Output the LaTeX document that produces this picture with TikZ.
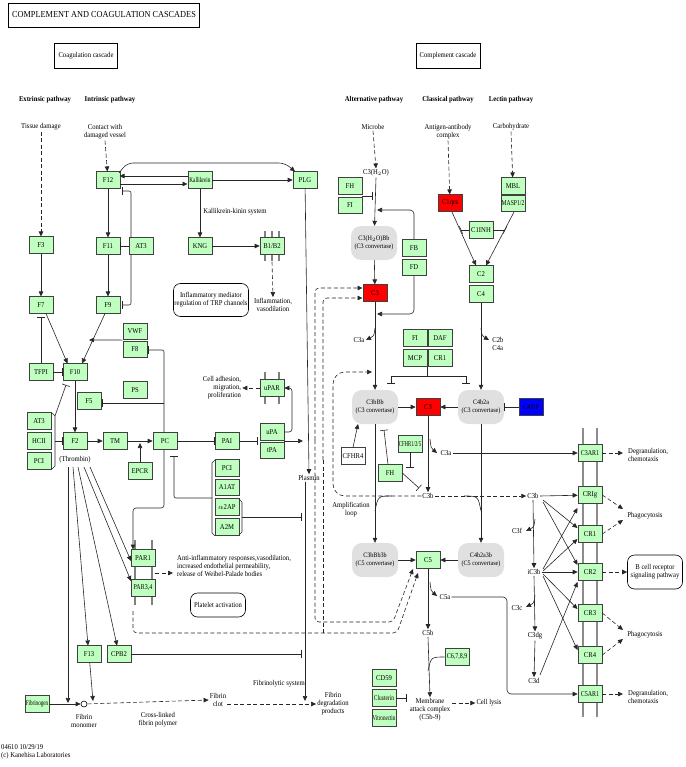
\documentclass[tikz,border=0pt]{standalone}
\usepackage{fontspec}
\setmainfont{Liberation Serif}[FakeStretch=0.9]
\usetikzlibrary{arrows.meta}
\definecolor{kg}{HTML}{BFFFBF}
\newcommand{\sq}[2]{\scalebox{#1}[1]{#2}}
\tikzset{
  gb/.style={draw=black!75, fill=kg, minimum width=24pt, minimum height=16.5pt, inner sep=0pt, line width=0.6pt},
  rb/.style={gb, fill=red},
  bb/.style={gb, fill=blue},
  wb/.style={gb, fill=white},
  cv/.style={fill=black!12, rounded corners=10pt, minimum width=46pt, minimum height=34pt, inner sep=0pt, align=center, font=\fontsize{6.8}{7.8}\selectfont},
  lb/.style={align=center, inner sep=1pt},
  hd/.style={inner sep=1pt, font=\fontsize{7.4}{8.2}\selectfont\bfseries},
  rbx/.style={draw, line width=0.6pt, rounded corners=7pt, align=center, inner sep=1pt},
  ln/.style={line width=0.6pt, black!85},
  ar/.style={ln, -{Triangle[length=5pt,width=4.5pt]}},
  ih/.style={ln, -{Bar[width=8pt]}},
  ds/.style={dash pattern=on 4pt off 2.5pt},
  mem/.style={line width=1.6pt, black!45},
  memt/.style={line width=1.1pt, black!50}
}
\begin{document}
\begin{tikzpicture}[x=1pt,y=-1pt, font=\fontsize{7.4}{8.2}\selectfont]
\useasboundingbox (0,0) rectangle (685,767);
% membranes
\draw[mem] (583,428) -- (583,717);
\draw[mem] (597,428) -- (597,717);
\draw[memt] (135,540) -- (135,605);
\draw[memt] (152,540) -- (152,605);
\foreach \x in {265,272,279} \draw[memt] (\x,231) -- (\x,261);
\foreach \x in {265,279} \draw[memt] (\x,372) -- (\x,404);

% titles
\node[draw, line width=0.8pt, minimum width=178pt, minimum height=24pt, font=\fontsize{9.2}{10}\selectfont] (title) at (104,15) {COMPLEMENT AND COAGULATION CASCADES};
\node[draw, line width=0.6pt, minimum width=63pt, minimum height=25pt] (coag) at (86,56) {Coagulation cascade};
\node[draw, line width=0.6pt, minimum width=64pt, minimum height=25pt] (comp) at (448,56) {Complement cascade};
\node[hd] (h1) at (45,100) {Extrinsic pathway};
\node[hd] (h2) at (110,100) {Intrinsic pathway};
\node[hd] (h3) at (374,100) {Alternative pathway};
\node[hd] (h4) at (448,100) {Classical pathway};
\node[hd] (h5) at (511,100) {Lectin pathway};
\node[lb] (tissue) at (41,127) {Tissue damage};
\node[lb] (contact) at (105,132) {Contact with\\damaged vessel};
\node[lb] (microbe) at (373,127) {Microbe};
\node[lb] (antigen) at (448,132) {Antigen-antibody\\complex};
\node[lb] (carb) at (511,127) {Carbohydrate};

% coagulation nodes
\node[gb] (f12) at (108,180) {F12};
\node[gb] (kal) at (200,180) {\sq{0.78}{Kallikrein}};
\node[gb] (plg) at (305,180) {PLG};
\node[gb] (f11) at (108,246) {F11};
\node[gb] (at3a) at (141,246) {AT3};
\node[gb] (kng) at (200,246) {KNG};
\node[gb] (b1b2) at (272,246) {B1/B2};
\node[gb] (f3) at (41,245) {F3};
\node[gb] (f7) at (41,305) {F7};
\node[gb] (f9) at (108,305) {F9};
\node[gb] (vwf) at (135,331.5) {VWF};
\node[gb] (f8) at (135,349.5) {F8};
\node[gb] (tfpi) at (41,372) {TFPI};
\node[gb] (f10) at (75,372) {F10};
\node[gb] (ps) at (135,390) {PS};
\node[gb] (f5) at (89,401) {F5};
\node[gb] (at3b) at (39,421) {AT3};
\node[gb] (hcii) at (39,441) {HCII};
\node[gb] (pcia) at (39,461) {PCI};
\node[gb] (f2) at (75,441) {F2};
\node[lb] (thr) at (75,460) {(Thrombin)};
\node[gb] (tm) at (115,441) {TM};
\node[gb] (pc) at (165,441) {PC};
\node[gb] (epcr) at (140,471) {EPCR};
\node[gb] (pai) at (227,441) {PAI};
\node[gb] (upa) at (272,432) {uPA};
\node[gb] (tpa) at (272,450.5) {tPA};
\node[gb] (upar) at (272,388) {uPAR};
\node[gb] (pcib) at (227,468) {PCI};
\node[gb] (a1at) at (227,487.5) {A1AT};
\node[gb] (a2ap) at (227,507) {$\alpha$2AP};
\node[gb] (a2m) at (227,527) {A2M};
\node[gb] (par1) at (143,558) {PAR1};
\node[gb] (par34) at (143,588) {\sq{0.9}{PAR3,4}};
\node[gb] (f13) at (89,654) {F13};
\node[gb] (cpb2) at (119,654) {CPB2};
\node[gb] (fbg) at (37,704) {\sq{0.76}{Fibrinogen}};
\node[circle, draw, line width=0.6pt, inner sep=0pt, minimum size=6pt] (fm) at (84,704) {};

% coagulation labels
\node[lb] (kks) at (235,212) {Kallikrein-kinin system};
\node[rbx, minimum width=73pt, minimum height=33pt] (trp) at (211,300) {Inflammatory mediator\\regulation of TRP channels};
\node[lb] (infl) at (273,305) {Inflammation,\\vasodilation};
\node[lb, align=right] (celladh) at (222,388) {Cell adhesion,\\migration,\\proliferation};
\node[lb] (plasmin) at (309,478) {Plasmin};
\node[lb, align=left, anchor=west] (antiinf) at (176,566) {Anti-inflammatory responses,vasodilation,\\increased endothelial permeability,\\release of Weibel-Palade bodies};
\node[rbx, minimum width=55pt, minimum height=24pt] (plt) at (218,605) {Platelet activation};
\node[lb] (fmlab) at (84,721) {Fibrin\\monomer};
\node[lb] (xlink) at (158,720) {Cross-linked\\fibrin polymer};
\node[lb] (clot) at (218,700) {Fibrin\\clot};
\node[lb] (fsys) at (279,684) {Fibrinolytic system};
\node[lb] (fdp) at (333,704) {Fibrin\\degradation\\products};
\node[lb, align=left, anchor=west] (kegg) at (0,752) {04610 10/29/19\\(c) Kanehisa Laboratories};

% complement nodes
\node[lb] (c3h2o) at (376,173) {C3(H$_2$O)};
\node[gb] (fh) at (350,186) {FH};
\node[gb] (fi) at (350,205.5) {FI};
\node[cv] (c3h2obb) at (374,243) {C3(H$_2$O)Bb\\(C3 convertase)};
\node[gb] (fb) at (414,248) {FB};
\node[gb] (fd) at (414,267.5) {FD};
\node[rb] (c3t) at (375,293) {C3};
\node[rb] (c1qrs) at (450,203) {C1qrs};
\node[gb] (mbl) at (513,186) {MBL};
\node[gb] (masp) at (513,203.5) {\sq{0.85}{MASP1/2}};
\node[gb] (c1inh) at (481,230) {C1INH};
\node[gb] (c2) at (481,274) {C2};
\node[gb] (c4) at (481,294) {C4};
\node[gb] (fi2) at (415,338) {FI};
\node[gb] (daf) at (440,338) {DAF};
\node[gb] (mcp) at (415,358) {MCP};
\node[gb] (cr1b) at (440,358) {CR1};
\node[cv] (c3bbb) at (375,407) {C3bBb\\(C3 convertase)};
\node[rb] (c3m) at (428,407) {C3};
\node[cv] (c4b2a) at (481,407) {C4b2a\\(C3 convertase)};
\node[bb] (c4bp) at (531,407) {C4BP};
\node[wb] (cfhr4) at (353,456) {CFHR4};
\node[gb] (cfhr) at (410,444) {\sq{0.72}{CFHR1/2/5}};
\node[gb] (fh2) at (390,473) {FH};
\node[cv] (c3bbb3b) at (375,560) {C3bBb3b\\(C5 convertase)};
\node[gb] (c5) at (428,560) {C5};
\node[cv] (c4b2a3b) at (481,560) {C4b2a3b\\(C5 convertase)};
\node[gb] (c6789) at (457,657) {\sq{0.9}{C6,7,8,9}};
\node[gb] (cd59) at (384,678) {CD59};
\node[gb] (clu) at (384,698) {\sq{0.82}{Clusterin}};
\node[gb] (vit) at (384,718) {\sq{0.76}{Vitronectin}};
\node[gb] (c3ar1) at (590,453) {\sq{0.9}{C3AR1}};
\node[gb] (crig) at (590,495) {CRIg};
\node[gb] (cr1) at (590,534) {CR1};
\node[gb] (cr2) at (590,572) {CR2};
\node[gb] (cr3) at (590,613) {CR3};
\node[gb] (cr4) at (590,655) {CR4};
\node[gb] (c5ar1) at (590,694) {\sq{0.9}{C5AR1}};

% complement labels
\node[lb] (c3a1) at (359,340) {C3a};
\node[lb, align=left] (c2b) at (498,344) {C2b\\C4a};
\node[lb] (c3a2) at (446,453) {C3a};
\node[lb] (c3b1) at (428,496) {C3b};
\node[lb] (c3b2) at (533,496) {C3b};
\node[lb] (ic3b) at (534,572) {iC3b};
\node[lb] (c3f) at (517,531) {C3f};
\node[lb] (c3c) at (517,608) {C3c};
\node[lb] (c3dg) at (535,636) {C3dg};
\node[lb] (c3d) at (534,681) {C3d};
\node[lb] (amp) at (351,510) {Amplification\\loop};
\node[lb] (c5a) at (445,597) {C5a};
\node[lb] (c5b) at (428,633) {C5b};
\node[lb] (mac) at (430,710) {Membrane\\attack complex\\(C5b-9)};
\node[lb] (lysis) at (489,703) {Cell lysis};
\node[lb, align=left, anchor=west] (degr1) at (627,455) {Degranulation,\\chemotaxis};
\node[lb, align=left, anchor=west] (degr2) at (627,697) {Degranulation,\\chemotaxis};
\node[lb] (phag1) at (645,516) {Phagocytosis};
\node[lb] (phag2) at (645,635) {Phagocytosis};
\node[rbx, minimum width=55pt, minimum height=34pt] (bcr) at (655,572) {B cell receptor\\signaling pathway};

% ---------- coagulation connectors
\draw[ar,ds] (tissue.south) -- (f3);
\draw[ar,ds] (contact.south) -- (f12);
\draw[ar] (f3) -- (f7);
\draw[ar] (f12) -- (f11);
\draw[ar] (f11) -- (f9);
\draw[ar] (187.5,176) -- (119.5,176);
\draw[ar] (120,184) -- (187.5,184);
\draw[ar, rounded corners=6pt] (119,173) -- (127,163) -- (285,163) -- (295,171.5);
\draw[ar] (kal) -- (plg);
\draw[ar] (kal) -- (kng);
\draw[ar] (kng) -- (b1b2);
\draw[ar,ds] (272,262) -- (infl.north);
\draw[ih] (at3a) -- (f11);
\draw[ih, rounded corners=2pt] (131,238) -- (131,191) -- (122,191);
\draw[ih, rounded corners=2pt] (131,254) -- (131,305) -- (122,305);
\draw[ar] (f7.south) ++(5,0) -- (67.5,363.5);
\draw[ar] (f9.south) ++(-3,0) -- (82,363.5);
\draw[ar] (vwf.south west) -- (89,340);
\draw[ih] (tfpi) -- (f10);
\draw[ih] (tfpi) -- (41,317);
\draw[ar] (f10) -- (f2);
\draw[ln] (52,413) -- (55,416) -- (55,466) -- (52,469);
\draw[ih] (55,441) -- (f2);
\draw[ih] (55,416) -- (66,385);
\draw[ar] (f2) -- (tm);
\draw[ar] (tm) -- (pc);
\draw[ar] (epcr) -- (140,443);
\draw[ih, rounded corners=2pt] (164,432.5) -- (164,350) -- (148,350);
\draw[ih] (164,403) -- (102,403);
\draw[ar, rounded corners=3pt] (164,449.5) -- (164,508) -- (133,508) -- (133,549.5);
\draw[ih] (pc) -- (pai);
\draw[ih] (pai) -- (258,441);
\draw[ln] (215,460) -- (212,463) -- (212,533) -- (215,536);
\draw[ih, rounded corners=2pt] (212,498) -- (174,498) -- (174,456);
\draw[ln] (239,499) -- (242,502) -- (242,532) -- (239,535);
\draw[ih] (242,517) -- (302,517);
\draw[ar, rounded corners=3pt] (upa.east) -- (292,432) -- (292,388) -- (upar.east);
\draw[ar,ds] (upar) -- (celladh.east);
\draw[ar] (284,441) -- (303,441);
\draw[ar] (plg) -- (plasmin.north);
\draw[ar] (plasmin.south) ++(-4,0) -- (305,701);
\draw[ih] (cpb2) -- (302,654);
\draw[ar] (fbg) -- (fm);
\draw[ar] (68,467) -- (68,703);
\draw[ar] (f13) -- (93,701);
\draw[ar,ds] (fm) -- (clot.west);
\draw[ar,ds] (clot.east) ++(0,4) -- (fdp.west);
\draw[ar] (73,467) -- (88,645.5);
\draw[ar] (78,467) -- (117,645.5);
\draw[ar] (84,467) -- (131,581);
\draw[ar] (90,467) -- (131,561);
\draw[ar,ds] (155,573) -- (173,573);

% ---------- complement connectors
\draw[ar,ds] (microbe.south) -- (c3h2o.north);
\draw[ar,ds] (antigen.south) -- (c1qrs);
\draw[ar,ds] (carb.south) -- (mbl);
\draw[ar] (c3h2o.south) -- (c3h2obb);
\draw[ih] (362,196) -- (373,196);
\draw[ar, rounded corners=4pt] (fb.north) -- (414,210) -- (377,210);
\draw[ar] (c3h2obb) -- (c3t);
\draw[ar, rounded corners=4pt] (fd.south) -- (414,314) -- (377,314);
\draw[ar] (375,328) .. controls (374,336) .. (366,340);
\draw[ar] (c3t) -- (c3bbb);
\draw[ar,ds, rounded corners=4pt] (315,440) -- (315,288) -- (362.5,288);
\draw[ar,ds, rounded corners=4pt] (323,460) -- (323,298) -- (362.5,298);
\draw[ar,ds, rounded corners=4pt] (315,440) -- (315,622) -- (393,622) -- (413,569);
\draw[ds, ln] (323,460) -- (323,633);
\draw[ar,ds, rounded corners=4pt] (133,611) -- (133,633) -- (397,633) -- (418,573);
\draw[ar] (452,212) -- (476,265.5);
\draw[ar] (514,212) -- (486,265.5);
\draw[ln] (c1inh.west) -- (461,230);
\draw[ln] (459.3,226.3) -- (462.7,233.7);
\draw[ln] (c1inh.east) -- (505,230);
\draw[ln] (506.8,226.4) -- (503.2,233.6);
\draw[ar] (c4) -- (c4b2a);
\draw[ar] (481,328) .. controls (482,336) .. (489,340);
\draw[ln] (427.5,366.5) -- (427.5,376);
\draw[ih] (427.5,376) -| (391,384);
\draw[ih] (427.5,376) -| (466,384);
\draw[ar] (c3bbb) -- (c3m);
\draw[ar] (c4b2a) -- (c3m);
\draw[ih] (c4bp) -- (504,407);
\draw[ar] (c3m) -- (c3b1.north);
\draw[ar] (430,439) .. controls (431,448) .. (437,453);
\draw[ar] (c3a2.east) -- (c3ar1);
\draw[ar,ds] (c3ar1) -- (623,453);
\draw[ar] (cfhr4.north) -- (358,424);
\draw[ih] (388,464.5) -- (384,430);
\draw[ih] (fh2.east) -- (419,488);
\draw[ih] (410,452) -- (410,468);
\draw[ar, ds, rounded corners=12pt] (c3b1.west) -- (333,496) -- (333,372) -- (372,372);
\draw[ar,ds] (c3b1.east) -- (c3b2.west);
\draw[ln] (392,496) .. controls (378,496) .. (375,511);
\draw[ln] (464,496) .. controls (478,496) .. (481,511);
\draw[ar] (c3bbb) -- (c3bbb3b);
\draw[ar] (c4b2a) -- (c4b2a3b);
\draw[ar] (c3bbb3b) -- (c5);
\draw[ar] (c4b2a3b) -- (c5);
\draw[ar] (430,582) .. controls (431,591) .. (437,596);
\draw[ar, rounded corners=4pt] (c5a.east) -- (507,597) -- (507,694) -- (c5ar1.west);
\draw[ar] (c5) -- (c5b.north);
\draw[ar] (c5b.south) -- (mac.north);
\draw[ln] (c6789.west) .. controls (431,657) .. (428,671);
\draw[ih] (clu) -- (407,698);
\draw[ar,ds] (452,703) -- (lysis.west);
\draw[ar] (c3b2.south) -- (ic3b.north);
\draw[ar] (535,519) .. controls (534,527) .. (526,531);
\draw[ar] (ic3b.south) -- (c3dg.north);
\draw[ar] (535,595) .. controls (534,603) .. (526,607);
\draw[ar] (c3dg.south) -- (c3d.north);
\draw[ar] (c3b2.east) -- (crig);
\draw[ar] (543,500) -- (577.5,528);
\draw[ar] (543,502) -- (577.5,565);
\draw[ar] (543,569) -- (577.5,508);
\draw[ar] (543,571) -- (577.5,539);
\draw[ar, line width=0.9pt] (ic3b.east) -- (cr2);
\draw[ar] (543,574) -- (577.5,609);
\draw[ar] (543,576) -- (577.5,650);
\draw[ar] (540,675) -- (577.5,582);
\draw[ar,ds] (crig.east) -- (623,509);
\draw[ar,ds] (cr1.east) -- (623,520);
\draw[ar,ds] (cr2) -- (bcr);
\draw[ar,ds] (cr3.east) -- (623,630);
\draw[ar,ds] (cr4.east) -- (623,639);
\draw[ar,ds] (c5ar1) -- (623,694);
\end{tikzpicture}
\end{document}
